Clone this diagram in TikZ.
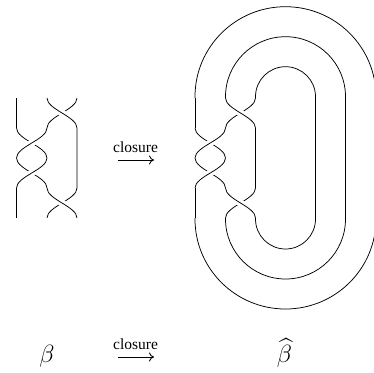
\documentclass[tikz,border=0pt]{standalone}
\usepackage{amsmath}
\usepackage{fontspec}
\setmainfont{Liberation Serif}
\usetikzlibrary{arrows.meta}
\tikzset{
  strand/.style={line width=0.75pt,black},
  mask/.style={line width=6.5pt,white},
  word/.style={font=\fontsize{15.5}{17}\selectfont,inner sep=0pt,anchor=base},
  greek/.style={font=\fontsize{24}{28}\selectfont,inner sep=0pt},
  maparrow/.style={line width=0.9pt,-{To[length=5pt,width=9pt]}}
}
% strand from upper left to lower right: x left, x right, y top
\newcommand{\sdownA}[3]{(#1,#3) .. controls (#1,#3+11.5) and (#2,#3+18.5) .. (#2,#3+30)}
% strand from upper right to lower left
\newcommand{\supA}[3]{(#2,#3) .. controls (#2,#3+11.5) and (#1,#3+18.5) .. (#1,#3+30)}
% braid with strand x positions #1 #2 #3
\newcommand{\braidstrands}[3]{
  % under strands
  \draw[strand] \supA{#2}{#3}{98} \sdownA{#1}{#2}{128} \sdownA{#1}{#2}{158} \supA{#2}{#3}{188};
  % masks at the crossings
  \draw[mask] ({(#2+#3)/2-5},{113-3.2}) -- ({(#2+#3)/2+5},{113+3.2});
  \draw[mask] ({(#1+#2)/2-5},{143+3.2}) -- ({(#1+#2)/2+5},{143-3.2});
  \draw[mask] ({(#1+#2)/2-5},{173+3.2}) -- ({(#1+#2)/2+5},{173-3.2});
  \draw[mask] ({(#2+#3)/2-5},{203-3.2}) -- ({(#2+#3)/2+5},{203+3.2});
  % over strands
  \draw[strand] \sdownA{#2}{#3}{98} -- (#3,188) \sdownA{#2}{#3}{188};
  \draw[strand] \supA{#1}{#2}{128};
  \draw[strand] \supA{#1}{#2}{158};
  \draw[strand] (#1,98) -- (#1,128);
  \draw[strand] (#1,188) -- (#1,218);
}
\begin{document}
\begin{tikzpicture}[x=1pt,y=-1pt]
\useasboundingbox (0,0) rectangle (374,372);
\clip (0,0) rectangle (374,372);
\braidstrands{16.5}{47}{77}
\braidstrands{195}{225.5}{255.5}
% closure arcs
\draw[strand] (255.5,98) -- (255.5,96.7) arc[start angle=180,end angle=0,x radius=30,y radius=-30] -- (315.5,219) arc[start angle=0,end angle=-180,x radius=30,y radius=-30] -- (255.5,218);
\draw[strand] (225.5,98) -- (225.5,96.7) arc[start angle=180,end angle=0,x radius=60,y radius=-60] -- (345.5,219) arc[start angle=0,end angle=-180,x radius=60,y radius=-60] -- (225.5,218);
\draw[strand] (195,98) -- (195,96.7) arc[start angle=180,end angle=0,x radius=90.5,y radius=-90] -- (376,219) arc[start angle=0,end angle=-180,x radius=90.5,y radius=-90] -- (195,218);
% labels
\node[word] (w1) at (135.5,152) {closure};
\coordinate (a1s) at (118,160);
\coordinate (a1e) at (154,160);
\draw[maparrow] (a1s) -- (a1e);
\node[word] (w2) at (135.5,349) {closure};
\coordinate (a2s) at (118,357);
\coordinate (a2e) at (154,357);
\draw[maparrow] (a2s) -- (a2e);
\node[greek] (b1) at (47,356.5) {$\beta$};
\node[greek] (b2) at (284.5,353) {$\widehat{\beta}$};
\end{tikzpicture}
\end{document}
